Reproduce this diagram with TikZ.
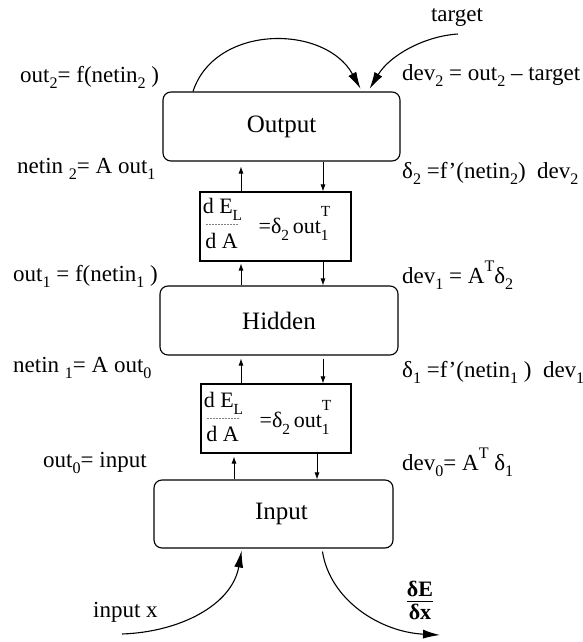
\documentclass[tikz,border=0pt]{standalone}
\usepackage{fontspec}
\setmainfont{Liberation Serif}
\usetikzlibrary{arrows.meta,calc}
\newcommand\lowsub[1]{\raisebox{-0.3em}{\scalebox{0.7}{#1}}}
\newcommand\hisup[1]{\raisebox{0.5em}{\scalebox{0.7}{#1}}}
\newcommand\mysupsub[2]{\rlap{\raisebox{0.78em}{\scalebox{0.7}{#1}}}\raisebox{-0.32em}{\scalebox{0.7}{#2}}}
\begin{document}
\begin{tikzpicture}[x=1pt,y=-1pt,
  layer/.style={draw, rounded corners=8pt, line width=1.1pt, inner sep=0pt, font=\fontsize{25}{30}\selectfont},
  wbox/.style={draw, line width=1.1pt, inner sep=0pt},
  lbl/.style={anchor=base west, inner sep=0pt, font=\fontsize{23}{27}\selectfont},
  wtxt/.style={inner sep=0pt, font=\fontsize{22}{25}\selectfont},
  small/.style={-{Latex[length=7pt,width=5pt]}, line width=0.8pt},
  big/.style={-{Latex[length=17pt,width=9pt]}, line width=1.1pt}
]
\useasboundingbox (0,0) rectangle (583,642);

% layer boxes
\node[layer, minimum width=237pt, minimum height=69pt] (out) at (281.5,126.5) {Output};
\node[layer, minimum width=238pt, minimum height=69pt] (hid) at (279,320.5) {Hidden};
\node[layer, minimum width=239pt, minimum height=68pt] (inp) at (273.5,514) {\hspace*{16pt}Input};

% weight boxes
\node[wbox, minimum width=151pt, minimum height=69pt] (w1) at (275.5,226.5) {};
\node[wbox, minimum width=150pt, minimum height=69pt] (w2) at (276,418.5) {};

\node[wtxt] (w1num) at ($(w1.north west)+(23,18)$) {d E\lowsub{L}};
\node[wtxt] (w1den) at ($(w1.north west)+(22,50)$) {d A};
\draw[dash pattern=on 1.5pt off 1.5pt, line width=0.5pt, gray] ($(w1.north west)+(7,33)$) -- ($(w1.north west)+(40,33)$);
\node[wtxt, anchor=base west] (w1eq) at ($(w1.north west)+(59,42)$) {=δ\lowsub{2}\,out\mysupsub{T}{1}};

\node[wtxt] (w2num) at ($(w2.north west)+(23,20)$) {d E\lowsub{L}};
\node[wtxt] (w2den) at ($(w2.north west)+(22,51)$) {d A};
\draw[dash pattern=on 1.5pt off 1.5pt, line width=0.5pt, gray] ($(w2.north west)+(7,35)$) -- ($(w2.north west)+(40,35)$);
\node[wtxt, anchor=base west] (w2eq) at ($(w2.north west)+(59,44)$) {=δ\lowsub{2}\,out\mysupsub{T}{1}};

% vertical small arrows
\coordinate (ua) at (241,0);
\coordinate (da) at (323,0);
\coordinate (ub) at (234,0);
\coordinate (db) at (317,0);
\draw[small, shorten >=5pt] (w1.north -| ua) -- (out.south -| ua);
\draw[small] (out.south -| da) -- (w1.north -| da);
\draw[small, shorten >=2pt] (hid.north -| ua) -- (w1.south -| ua);
\draw[small] (w1.south -| da) -- (hid.north -| da);
\draw[small, shorten >=3pt] (w2.north -| ua) -- (hid.south -| ua);
\draw[small, shorten <=3pt] (hid.south -| da) -- (w2.north -| da);
\draw[small, shorten >=3pt] (inp.north -| ub) -- (w2.south -| ub);
\draw[small] (w2.south -| db) -- (inp.north -| db);

% top arcs
\node[lbl, anchor=base] (tgt) at (457,22) {target};
\coordinate (tgtstart) at (458,34);
\coordinate (a1) at (193,0);
\coordinate (a2) at (362,0);
\coordinate (a3) at (368,0);
\draw[big, shorten >=3pt] (out.north -| a1) .. controls (215,24) and (325,24) .. (out.north -| a2);
\draw[big, shorten >=3pt] (tgtstart) .. controls (425,36) and (390,55) .. (out.north -| a3);

% bottom arcs
\coordinate (inx) at (122,634);
\coordinate (dex) at (440,635);
\coordinate (b1) at (242,0);
\coordinate (b2) at (322,0);
\draw[big, shorten >=2pt] (inx) .. controls (180,632) and (232,605) .. (inp.south -| b1);
\draw[big, shorten <=3pt] (inp.south -| b2) .. controls (330,600) and (380,632) .. (dex);

% labels
\node[lbl] (l1) at (20,82) {out\lowsub{2}= f(netin\lowsub{2} )};
\node[lbl] (l2) at (17,173) {netin \lowsub{2}= A out\lowsub{1}};
\node[lbl] (l3) at (13,281) {out\lowsub{1} = f(netin\lowsub{1} )};
\node[lbl] (l4) at (13,372) {netin \lowsub{1}= A out\lowsub{0}};
\node[lbl] (l5) at (43,467) {out\lowsub{0}= input};

\node[lbl] (r1) at (402,80) {dev\lowsub{2} = out\lowsub{2} – target};
\node[lbl] (r2) at (402,178) {δ\lowsub{2} =f’(netin\lowsub{2})\ \ dev\lowsub{2}};
\node[lbl] (r3) at (402,283) {dev\lowsub{1} = A\hisup{T}δ\lowsub{2}};
\node[lbl] (r4) at (402,377) {δ\lowsub{1} =f’(netin\lowsub{1} )\ \ dev\lowsub{1}};
\node[lbl] (r5) at (402,470) {dev\lowsub{0}= A\hisup{T} δ\lowsub{1}};

\node[lbl] (ix) at (93,617) {input x};
\node[inner sep=0pt, font=\fontsize{22}{25}\selectfont\bfseries] (dedx) at (420,603) {\begin{tabular}{@{}c@{}}δE\\[-3pt]\hline δx\end{tabular}};
\end{tikzpicture}
\end{document}
